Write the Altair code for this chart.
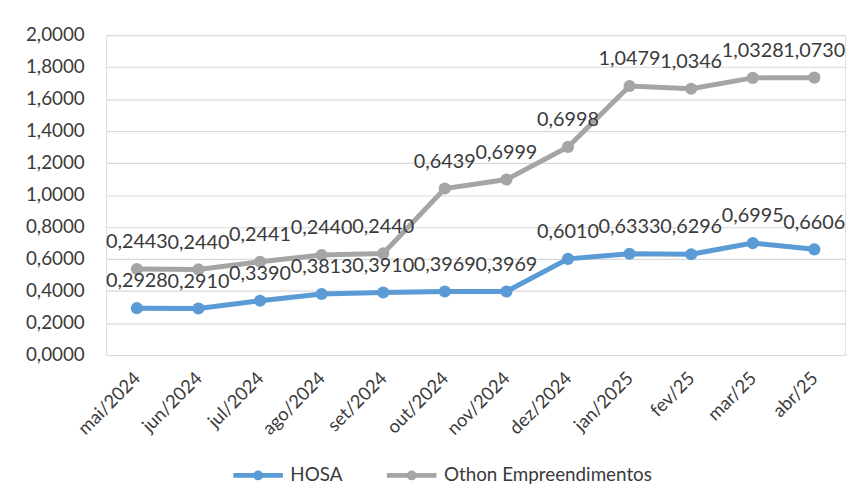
import altair as alt
import pandas as pd

months = ["mai/2024", "jun/2024", "jul/2024", "ago/2024", "set/2024", "out/2024",
          "nov/2024", "dez/2024", "jan/2025", "fev/25", "mar/25", "abr/25"]
hosa = [0.2928, 0.2910, 0.3390, 0.3813, 0.3910, 0.3969, 0.3969, 0.6010, 0.6333, 0.6296, 0.6995, 0.6606]
othon = [0.2443, 0.2440, 0.2441, 0.2440, 0.2440, 0.6439, 0.6999, 0.6998, 1.0479, 1.0346, 1.0328, 1.0730]
series = ["HOSA", "Othon Empreendimentos"]
colors = ["#5B9BD5", "#A5A5A5"]
y_ticks = [0, 0.2, 0.4, 0.6, 0.8, 1.0, 1.2, 1.4, 1.6, 1.8, 2.0]

rows = []
for i, m in enumerate(months):
    rows.append({"month": m, "series": series[0], "value": hosa[i], "top": hosa[i], "order": i})
    rows.append({"month": m, "series": series[1], "value": othon[i], "top": hosa[i] + othon[i], "order": i})
df = pd.DataFrame(rows)
df["label"] = df["value"].map(lambda v: f"{v:.4f}".replace(".", ","))

FONT = "Lato"
TXT = "#3A3A3A"

x_enc = alt.X("month:N", sort=months, title=None,
              scale=alt.Scale(type="point", padding=0.5),
              axis=alt.Axis(labelAngle=-45, labelAlign="right", labelBaseline="middle",
                            labelPadding=20, ticks=False, domain=False, grid=False,
                            labelFontSize=18.5, labelFont=FONT, labelColor=TXT))
y_enc = alt.Y("top:Q", title=None,
              scale=alt.Scale(domain=[0, 2]),
              axis=alt.Axis(values=y_ticks, ticks=False, domain=False,
                            labelExpr="replace(format(datum.value, '.4f'), '.', ',')",
                            labelPadding=22, labelFontSize=19, labelFont=FONT, labelColor=TXT,
                            gridColor="#D9D9D9", gridWidth=1.2))
color_legend = alt.Legend(title=None, orient="none", direction="horizontal",
                          legendX=126, legendY=417,
                          symbolType="M-1,0L1,0M-0.1,0A0.1,0.1,0,1,0,0.1,0A0.1,0.1,0,1,0,-0.1,0",
                          symbolSize=2500, symbolStrokeWidth=5,
                          labelFontSize=19, labelFont=FONT, labelColor=TXT, labelLimit=0,
                          labelOffset=5, columnPadding=34)

base = alt.Chart(df)

lines = base.mark_line(strokeWidth=5).encode(
    x=x_enc, y=y_enc,
    color=alt.Color("series:N", scale=alt.Scale(domain=series, range=colors), legend=color_legend),
    detail="series:N",
    order="order:Q",
)
points = base.mark_point(filled=True, size=150, opacity=1).encode(
    x=x_enc, y=y_enc,
    color=alt.Color("series:N", scale=alt.Scale(domain=series, range=colors), legend=None),
)
labels = base.mark_text(dy=-21, baseline="alphabetic", align="center",
                        fontSize=20, font=FONT, color=TXT).encode(
    x=x_enc, y=y_enc, text="label:N",
)

chart = alt.layer(lines, points, labels).properties(
    width=746, height=323,
    autosize=alt.AutoSizeParams(type="none"),
    padding={"left": 99, "top": 25, "right": 13, "bottom": 140},
).configure_view(stroke=None).configure(background="white")

chart.save("out.html", embed_options={"renderer": "svg", "actions": False})
